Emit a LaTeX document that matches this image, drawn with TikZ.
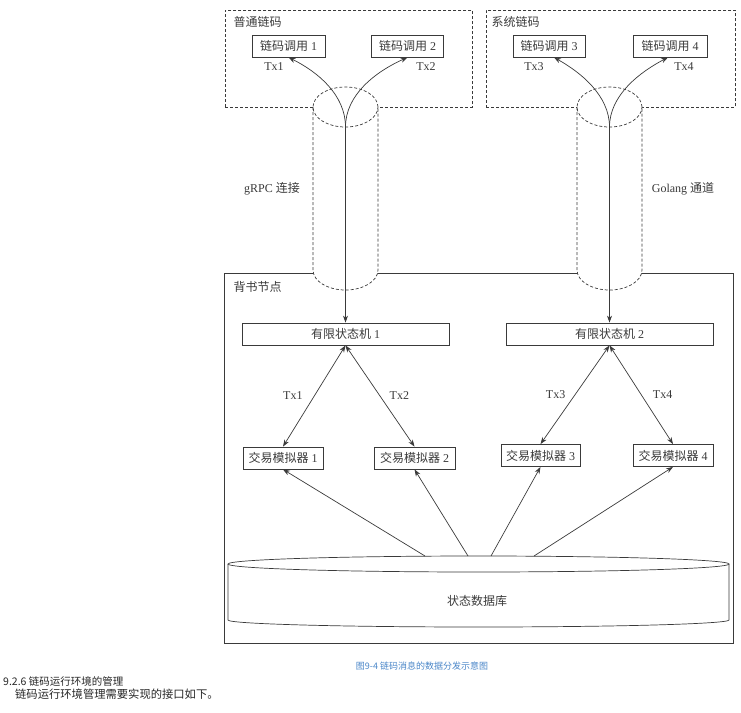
\documentclass[tikz,border=0pt]{standalone}
\usepackage{fontspec}
\setmainfont{Liberation Serif}
\newfontfamily\cjk{Noto Sans CJK SC}
\usetikzlibrary{arrows.meta}
\definecolor{ink}{HTML}{3A3A3A}
\definecolor{capblue}{HTML}{4A86C8}

\begin{document}
\begin{tikzpicture}[x=1pt,y=-1pt,
	every node/.style={font=\fontsize{12}{14}\selectfont, text=ink},
	box/.style={draw=ink, line width=0.8pt, inner sep=0pt, minimum height=22pt},
	group/.style={draw=ink, line width=0.8pt, dash pattern=on 3pt off 2pt, anchor=north west, inner sep=0pt},
	pipe/.style={draw=ink, line width=0.7pt, dash pattern=on 3pt off 2pt},
	arr/.style={draw=ink, line width=0.7pt, -{Stealth[length=7pt,width=5pt]}},
	dbl/.style={draw=ink, line width=0.7pt, {Stealth[length=7pt,width=5pt]}-{Stealth[length=7pt,width=5pt]}}]
	\useasboundingbox (0,0) rectangle (741,712);
	
	% chaincode groups
	\node[group, minimum width=247pt, minimum height=97pt] (usercc) at (225,10) {};
	\node[group, minimum width=249pt, minimum height=97pt] (syscc) at (486,10) {};
	\node[anchor=west] (userlbl) at (230,22) {\cjk 普通链码};
	\node[anchor=west] (syslbl) at (488,22) {\cjk 系统链码};
	
	\node[box, minimum width=73pt] (call1) at (288.5,46) {{\cjk 链码调用} 1};
	\node[box, minimum width=72pt] (call2) at (407.5,46) {{\cjk 链码调用} 2};
	\node[box, minimum width=72pt] (call3) at (549,46) {{\cjk 链码调用} 3};
	\node[box, minimum width=74pt] (call4) at (670,46) {{\cjk 链码调用} 4};
	
	\node (tx1c) at (274,67) {Tx1};
	\node (tx2c) at (426,67) {Tx2};
	\node (tx3c) at (534,67) {Tx3};
	\node (tx4c) at (684,67) {Tx4};
	
	% endorsing peer
	\node[draw=ink, line width=0.8pt, anchor=north west, minimum width=509pt, minimum height=370pt, inner sep=0pt] (peer) at (224,273) {};
	\node[anchor=west] (peerlbl) at (230,287) {\cjk 背书节点};
	
	% pipes
	\foreach \cx in {345.5,609.5} {
		\fill[white] (\cx-32.5,107) arc (180:0:32.5pt and 20pt) -- (\cx+32.5,270) arc (0:-180:32.5pt and 20pt) -- cycle;
		\draw[pipe] (\cx,107) ellipse (32.5pt and 20pt);
		\draw[pipe] (\cx-32.5,107) -- (\cx-32.5,270) arc (180:360:32.5pt and 20pt) -- (\cx+32.5,107);
	}
	\node (grpc) at (272,189) {gRPC {\cjk 连接}};
	\node (golang) at (683,189) {Golang {\cjk 通道}};
	
	\node[box, minimum width=207pt] (fsm1) at (345.5,334) {{\cjk 有限状态机} 1};
	\node[box, minimum width=207pt] (fsm2) at (609.5,334) {{\cjk 有限状态机} 2};
	
	\node[box, minimum width=80pt] (sim1) at (283,458) {{\cjk 交易模拟器} 1};
	\node[box, minimum width=81pt] (sim2) at (414.5,458) {{\cjk 交易模拟器} 2};
	\node[box, minimum width=79pt] (sim3) at (540.5,455.5) {{\cjk 交易模拟器} 3};
	\node[box, minimum width=80pt] (sim4) at (673,455.5) {{\cjk 交易模拟器} 4};
	
	% state database
	\draw[draw=ink, line width=0.7pt] (478.5,564) ellipse (250.5pt and 8pt);
	\draw[draw=ink, line width=0.7pt] (228,564) -- (228,620) arc (180:360:250.5pt and 7pt) -- (729,564);
	\node (db) at (477,601) {\cjk 状态数据库};
	\coordinate (db1) at (425,556);
	\coordinate (db2) at (468,556);
	\coordinate (db3) at (491,556);
	\coordinate (db4) at (534,556);
	
	% connectors
	\coordinate (split1) at (345.5,127);
	\coordinate (split2) at (609.5,127);
	\draw[arr] (split1) .. controls (345.5,95) and (318,72) .. (call1.south);
	\draw[arr] (split1) .. controls (345.5,95) and (375,72) .. (call2.south);
	\draw[arr] (split2) .. controls (609.5,95) and (580,72) .. ([xshift=5pt]call3.south);
	\draw[arr] (split2) .. controls (609.5,95) and (640,72) .. ([xshift=-2pt]call4.south);
	\draw[arr] (split1) -- (fsm1.north);
	\draw[arr] (split2) -- (fsm2.north);
	
	\draw[dbl] (fsm1.south) -- (sim1.north) node[midway, left=8pt] (tx1) {Tx1};
	\draw[dbl] (fsm1.south) -- (sim2.north) node[midway, right=6pt] (tx2) {Tx2};
	\draw[dbl] (fsm2.south) -- (sim3.north) node[midway, left=6pt] (tx3) {Tx3};
	\draw[dbl] (fsm2.south) -- (sim4.north) node[midway, right=8pt] (tx4) {Tx4};
	
	\draw[arr] (db1) -- (sim1.south);
	\draw[arr] (db2) -- (sim2.south);
	\draw[arr] (db3) -- (sim3.south);
	\draw[arr] (db4) -- (sim4.south);
	
	% page text
	\node[text=capblue, font=\cjk\fontsize{9}{11}\selectfont] (caption) at (422,666) {图9-4 链码消息的数据分发示意图};
	\node[anchor=west, text=black!85, font=\cjk\fontsize{10.5}{13}\selectfont, inner sep=0pt] (heading) at (3,681) {9.2.6 链码运行环境的管理};
	\node[anchor=west, text=black!85, font=\cjk\fontsize{11.3}{13}\selectfont, inner sep=0pt] (body) at (15,694) {链码运行环境管理需要实现的接口如下。};
\end{tikzpicture}
\end{document}
